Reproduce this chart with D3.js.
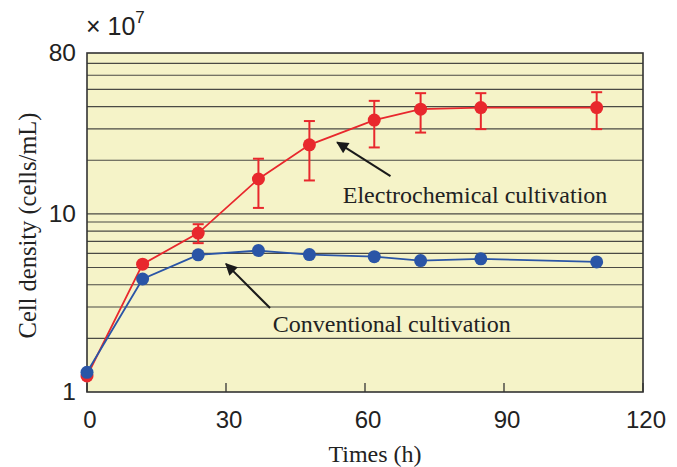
<!DOCTYPE html>
<html>
<head>
<meta charset="utf-8">
<script src="https://cdn.jsdelivr.net/npm/d3@7"></script>
<style>
  html, body { margin: 0; padding: 0; background: #ffffff; }
  svg { display: block; }
</style>
</head>
<body>
<svg id="chart" width="677" height="467"></svg>
<script>
// ---- data ----
const times = [0, 12, 24, 37, 48, 62, 72, 85, 110];
const electroValues = [1.23, 5.22, 7.8, 15.7, 24.4, 33.6, 38.7, 39.5, 39.5];
const electroLow  = [null, null, 6.85, 10.8, 15.4, 23.6, 28.6, 29.9, 29.9];
const electroHigh = [null, null, 8.75, 20.4, 33.2, 43.1, 47.6, 47.6, 48.2];
const conventionalValues = [1.29, 4.31, 5.89, 6.22, 5.91, 5.75, 5.47, 5.59, 5.37];
const xTicks = [0, 30, 60, 90, 120];
const yTickLabels = [1, 10, 80];
const yGridValues = [2, 3, 4, 5, 6, 7, 8, 9, 10, 20, 30, 40, 50, 60, 70];
const seriesNames = ["Electrochemical cultivation", "Conventional cultivation"];
// annotation anchors in data coordinates [time, density]
const electroLabelAt = [55.2, 11.5];
const electroArrow = [[65.5, 16.3], [54.0, 25.2]];
const convLabelAt = [40.1, 2.17];
const convArrow = [[39.5, 2.96], [30.0, 5.24]];

// ---- layout ----
const svg = d3.select("#chart");
const L = 87, R = 643, T = 53, B = 392;
const x = d3.scaleLinear().domain([0, 120]).range([L, R]);
const y = d3.scaleLog().domain([1, 80]).range([B, T]);

const red = "#e8282d", blue = "#2a55a6", bg = "#f5f3c8";
const sans = "'Liberation Sans', Arial, sans-serif";
const serif = "'Liberation Serif', 'Times New Roman', serif";

svg.append("defs").append("marker")
  .attr("id", "arrow").attr("viewBox", "0 0 10 10")
  .attr("refX", 9).attr("refY", 5)
  .attr("markerWidth", 7).attr("markerHeight", 6)
  .attr("markerUnits", "strokeWidth")
  .attr("orient", "auto")
  .append("path").attr("d", "M0,0 L10,5 L0,10 Z").attr("fill", "#1a1a1a");

// plot background
svg.append("rect").attr("x", L).attr("y", T).attr("width", R - L).attr("height", B - T)
  .attr("fill", bg);

// gridlines
svg.append("g").selectAll("line").data(yGridValues).join("line")
  .attr("x1", L).attr("x2", R)
  .attr("y1", d => y(d)).attr("y2", d => y(d))
  .attr("stroke", "#4a4a44").attr("stroke-width", 1.2);

// x axis ticks (inward)
svg.append("g").selectAll("line").data(xTicks).join("line")
  .attr("x1", d => x(d)).attr("x2", d => x(d))
  .attr("y1", B).attr("y2", B - 9)
  .attr("stroke", "#333").attr("stroke-width", 1.3);

// frame
svg.append("rect").attr("x", L).attr("y", T).attr("width", R - L).attr("height", B - T)
  .attr("fill", "none").attr("stroke", "#333").attr("stroke-width", 1.6);

// x tick labels
svg.append("g").selectAll("text").data(xTicks).join("text")
  .attr("x", d => x(d) + 3).attr("y", 428)
  .attr("text-anchor", "middle")
  .attr("font-family", sans).attr("font-size", 24).attr("fill", "#222")
  .text(d => d);

// y tick labels
svg.append("g").selectAll("text").data(yTickLabels).join("text")
  .attr("x", 76).attr("y", d => y(d) + 8)
  .attr("text-anchor", "end")
  .attr("font-family", sans).attr("font-size", 24.5).attr("fill", "#222")
  .text(d => d);

// multiplier
const mult = svg.append("text").attr("x", 86).attr("y", 35)
  .attr("font-family", sans).attr("font-size", 25).attr("fill", "#222");
mult.append("tspan").text("\u00d7 10");
mult.append("tspan").attr("dy", -12).attr("font-size", 17).text("7");

// axis titles
svg.append("text").attr("x", 375).attr("y", 462)
  .attr("text-anchor", "middle")
  .attr("font-family", serif).attr("font-size", 24).attr("fill", "#222")
  .text("Times (h)");
svg.append("text")
  .attr("transform", `translate(36,${(T + B) / 2 + 3}) rotate(-90)`)
  .attr("text-anchor", "middle")
  .attr("font-family", serif).attr("font-size", 24.5).attr("fill", "#222")
  .text("Cell density (cells/mL)");

// series
const line = d3.line().x(d => x(d[0])).y(d => y(d[1]));
const electro = times.map((t, i) => [t, electroValues[i], electroLow[i], electroHigh[i]]);
const conv = times.map((t, i) => [t, conventionalValues[i]]);

// error bars
const eb = svg.append("g").attr("stroke", red).attr("stroke-width", 2);
electro.filter(d => d[2] != null).forEach(d => {
  eb.append("line").attr("x1", x(d[0])).attr("x2", x(d[0])).attr("y1", y(d[2])).attr("y2", y(d[3]));
  eb.append("line").attr("x1", x(d[0]) - 5.5).attr("x2", x(d[0]) + 5.5).attr("y1", y(d[2])).attr("y2", y(d[2]));
  eb.append("line").attr("x1", x(d[0]) - 5.5).attr("x2", x(d[0]) + 5.5).attr("y1", y(d[3])).attr("y2", y(d[3]));
});

svg.append("path").datum(electro).attr("d", line)
  .attr("fill", "none").attr("stroke", red).attr("stroke-width", 1.8);
svg.append("g").selectAll("circle").data(electro).join("circle")
  .attr("cx", d => x(d[0])).attr("cy", d => y(d[1])).attr("r", 6.5).attr("fill", red);

svg.append("path").datum(conv).attr("d", line)
  .attr("fill", "none").attr("stroke", blue).attr("stroke-width", 1.8);
svg.append("g").selectAll("circle").data(conv).join("circle")
  .attr("cx", d => x(d[0])).attr("cy", d => y(d[1])).attr("r", 6.5).attr("fill", blue);

// annotations
function arrow(a) {
  svg.append("line")
    .attr("x1", x(a[0][0])).attr("y1", y(a[0][1]))
    .attr("x2", x(a[1][0])).attr("y2", y(a[1][1]))
    .attr("stroke", "#1a1a1a").attr("stroke-width", 2)
    .attr("marker-end", "url(#arrow)");
}
arrow(electroArrow);
arrow(convArrow);
svg.append("text").attr("x", x(electroLabelAt[0])).attr("y", y(electroLabelAt[1]))
  .attr("font-family", serif).attr("font-size", 24).attr("fill", "#222")
  .text(seriesNames[0]);
svg.append("text").attr("x", x(convLabelAt[0])).attr("y", y(convLabelAt[1]))
  .attr("font-family", serif).attr("font-size", 24).attr("fill", "#222")
  .text(seriesNames[1]);
</script>
</body>
</html>
